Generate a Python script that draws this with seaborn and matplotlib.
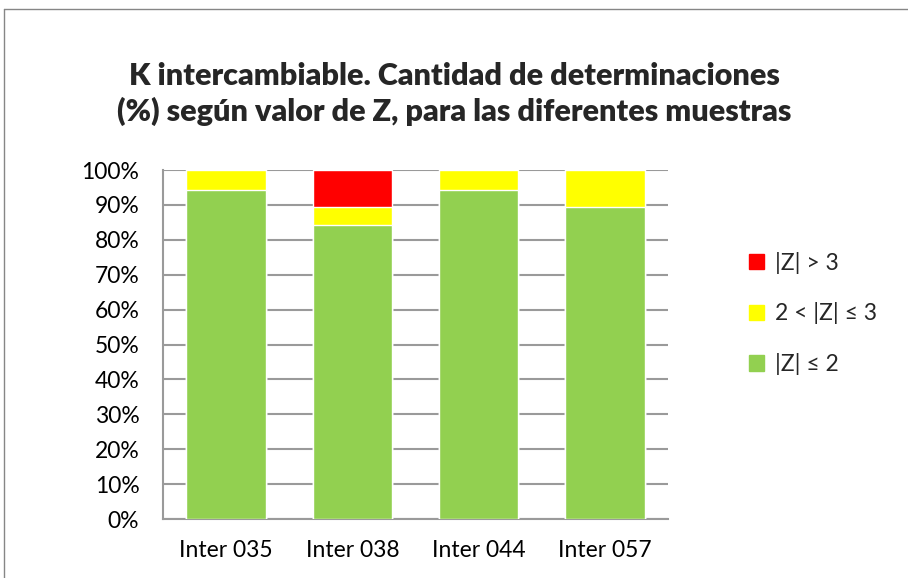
import matplotlib
matplotlib.use("Agg")
import matplotlib.pyplot as plt
import matplotlib.lines as mlines
import matplotlib.patches as mpatches
from matplotlib.ticker import PercentFormatter
import seaborn as sns
import pandas as pd

samples = ["Inter 035", "Inter 038", "Inter 044", "Inter 057"]
z_le2 = [94.4, 84.2, 94.4, 89.5]
z_2to3 = [5.6, 5.3, 5.6, 10.5]
z_gt3 = [0.0, 10.5, 0.0, 0.0]

series = ["|Z| ≤ 2", "2 < |Z| ≤ 3", "|Z| > 3"]
colors = ["#92d050", "#ffff00", "#ff0000"]

df = pd.DataFrame({"muestra": samples, "le2": z_le2, "m23": z_2to3, "gt3": z_gt3})
df["c1"] = df["le2"]
df["c2"] = df["le2"] + df["m23"]
df["c3"] = df["c2"] + df["gt3"]

sns.set_theme(style="white")
plt.rcParams["font.family"] = ["Lato", "DejaVu Sans"]

fig = plt.figure(figsize=(9.08, 5.78), dpi=100)
ax = fig.add_axes([0.1795, 0.102, 0.5562, 0.6038])

# stacked: draw cumulative totals from the top down
for col, c in zip(["c3", "c2", "c1"], colors[::-1]):
    sns.barplot(data=df, x="muestra", y=col, color=c, width=0.63,
                saturation=1, ax=ax, zorder=3)

ax.set_ylim(0, 100)
ax.set_yticks(range(0, 101, 10))
ax.yaxis.set_major_formatter(PercentFormatter(decimals=0))
ax.set_xlim(-0.5, 3.5)
ax.set_xlabel("")
ax.set_ylabel("")
ax.grid(axis="y", color="#9a9a9a", linewidth=1.5, zorder=0)
for s in ["top", "right"]:
    ax.spines[s].set_visible(False)
for s in ["left", "bottom"]:
    ax.spines[s].set_color("#9a9a9a")
    ax.spines[s].set_linewidth(1.5)
ax.tick_params(axis="x", labelsize=16.5, colors="black", length=0, pad=15)
ax.tick_params(axis="y", labelsize=16.5, colors="black", length=0, pad=17)

fig.suptitle("K intercambiable. Cantidad de determinaciones\n(%) según valor de Z, para las diferentes muestras",
             x=0.5, y=0.893, fontsize=22, fontweight="heavy", linespacing=1.3)

handles = [mpatches.Patch(color=c, label=l) for c, l in zip(colors[::-1], series[::-1])]
fig.legend(handles=handles, loc="center left", bbox_to_anchor=(0.812, 0.458),
           frameon=False, fontsize=16.5, handlelength=0.65, handleheight=0.65,
           labelspacing=1.25, handletextpad=0.5, borderpad=0)

# outer chart frame (cut off at right/bottom)
fig.add_artist(mlines.Line2D([4 / 908, 4 / 908], [0, 1 - 9 / 578], color="#868686", lw=1))
fig.add_artist(mlines.Line2D([4 / 908, 1], [1 - 9 / 578, 1 - 9 / 578], color="#868686", lw=1))

fig.savefig("out.png", dpi=100, facecolor="white")
